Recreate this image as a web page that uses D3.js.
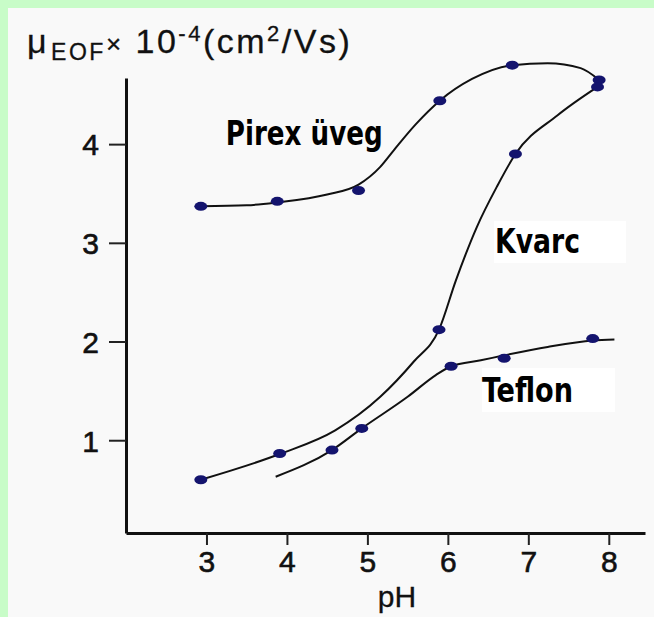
<!DOCTYPE html>
<html>
<head>
<meta charset="utf-8">
<script src="https://cdn.jsdelivr.net/npm/d3@7"></script>
<style>
  html, body { margin: 0; padding: 0; background: #c8fcc8; }
  #chart { position: absolute; left: 8px; top: 8px; }
</style>
</head>
<body>
<div id="chart"></div>
<script>
// tick labels
const xTicks = [3, 4, 5, 6, 7, 8];
const yTicks = [1, 2, 3, 4];

// measured points (pH, mobility x 10^-4)
const pirexPH = [2.93, 3.88, 4.89, 5.90, 6.80, 7.88];
const pirexMu = [3.37, 3.42, 3.53, 4.44, 4.80, 4.65];
const kvarcPH = [2.93, 3.91, 5.89, 6.84, 7.86];
const kvarcMu = [0.60, 0.865, 2.12, 3.90, 4.58];
const teflonPH = [4.56, 4.93, 6.04, 6.70, 7.80];
const teflonMu = [0.90, 1.12, 1.75, 1.83, 2.03];

// fitted curves
const pirexCurvePH = [2.93, 3.50, 3.88, 4.50, 4.89, 5.16, 5.33, 5.60, 5.90, 6.30, 6.80, 7.24, 7.65, 7.88];
const pirexCurveMu = [3.37, 3.38, 3.41, 3.49, 3.59, 3.77, 3.94, 4.20, 4.44, 4.66, 4.80, 4.82, 4.77, 4.65];
const kvarcCurvePH = [2.93, 3.91, 4.60, 5.16, 5.58, 5.89, 6.10, 6.36, 6.61, 6.84, 7.36, 7.86];
const kvarcCurveMu = [0.60, 0.86, 1.10, 1.44, 1.80, 2.12, 2.62, 3.16, 3.57, 3.90, 4.29, 4.58];
const teflonCurvePH = [3.86, 4.56, 4.93, 5.50, 5.85, 6.04, 6.41, 6.70, 7.24, 7.80, 8.07];
const teflonCurveMu = [0.63, 0.90, 1.12, 1.44, 1.66, 1.75, 1.81, 1.86, 1.945, 2.01, 2.02];

const W = 646, H = 609;
const svg = d3.select("#chart").append("svg")
    .attr("width", W).attr("height", H)
    .style("background", "#f9f9f9");

// offset of the panel inside the page
const g = svg.append("g").attr("transform", "translate(-8,-8)");

const x = d3.scaleLinear().domain([2, 8.45]).range([126, 645]);
const y = d3.scaleLinear().domain([0.06, 4.67]).range([533, 78]);

const font = "'Liberation Sans', Arial, sans-serif";
const boldFont = "'Liberation Sans Narrow', 'DejaVu Sans Condensed', 'Liberation Sans', Arial, sans-serif";

// axes
const xAxis = g.append("g")
    .attr("transform", `translate(0,${y.range()[0]})`)
    .call(d3.axisBottom(x).tickValues(xTicks).tickFormat(d3.format("d"))
        .tickSize(12).tickSizeOuter(0).tickPadding(5));
const yAxis = g.append("g")
    .attr("transform", `translate(${x.range()[0]},0)`)
    .call(d3.axisLeft(y).tickValues(yTicks).tickFormat(d3.format("d"))
        .tickSize(17).tickSizeOuter(0).tickPadding(10));

g.selectAll(".domain").attr("stroke", "#111").attr("stroke-width", 3);
g.selectAll(".tick line").attr("stroke", "#222").attr("stroke-width", 2);
g.selectAll(".tick text")
    .attr("fill", "#111")
    .attr("stroke", "#111")
    .attr("stroke-width", 0.6)
    .style("font-family", font)
    .style("font-size", "30px");
xAxis.selectAll(".tick text").attr("dy", "0.72em");
yAxis.selectAll(".tick text").attr("dy", "0.36em");

g.append("text")
    .attr("x", 397).attr("y", 607)
    .attr("text-anchor", "middle")
    .attr("stroke", "#111").attr("stroke-width", 0.3)
    .style("font-family", font).style("font-size", "30px").attr("fill", "#111")
    .text("pH");

// y title  µEOF × 10-4 (cm2/Vs)
const title = g.append("text")
    .attr("x", 27).attr("y", 53)
    .attr("stroke", "#111").attr("stroke-width", 0.3)
    .style("font-family", font).style("font-size", "34px")
    .style("letter-spacing", "2.5px").attr("fill", "#111");
title.append("tspan").text("\u03bc");
title.append("tspan").attr("dx", 2).attr("dy", 7).style("font-size", "23px").text("EOF");
title.append("tspan").attr("dy", -7).style("font-size", "26px").text("\u00d7");
title.append("tspan").text(" 10");
title.append("tspan").attr("dy", -12).style("font-size", "22px").text("-4");
title.append("tspan").attr("dy", 12).text("(cm");
title.append("tspan").attr("dy", -12).style("font-size", "22px").text("2");
title.append("tspan").attr("dy", 12).text("/Vs)");

// curves
const line = d3.line()
    .x(d => x(d[0]))
    .y(d => y(d[1]))
    .curve(d3.curveMonotoneX);

const curves = [
    d3.zip(pirexCurvePH, pirexCurveMu),
    d3.zip(kvarcCurvePH, kvarcCurveMu),
    d3.zip(teflonCurvePH, teflonCurveMu)
];
g.selectAll(".curve")
    .data(curves)
    .enter()
    .append("path")
    .attr("class", "curve")
    .attr("d", line)
    .attr("fill", "none")
    .attr("stroke", "#111")
    .attr("stroke-width", 2);

// label boxes
function label(txt, px, py, len, box) {
    if (box) {
        g.append("rect")
            .attr("x", box[0]).attr("y", box[1])
            .attr("width", box[2]).attr("height", box[3])
            .attr("fill", "#ffffff");
    }
    g.append("text")
        .attr("x", px).attr("y", py)
        .attr("textLength", len)
        .attr("lengthAdjust", "spacingAndGlyphs")
        .style("font-family", boldFont)
        .style("font-weight", "bold")
        .style("font-size", "33px")
        .attr("fill", "#000")
        .text(txt);
}
label("Pirex üveg", x(3.24), y(3.99), 157, null);
label("Kvarc", 495, 253, 85, [494, 221, 132, 42]);
label("Teflon", 482, 402, 91, [482, 368, 133, 44]);

// markers
const points = [
    ...d3.zip(pirexPH, pirexMu),
    ...d3.zip(kvarcPH, kvarcMu),
    ...d3.zip(teflonPH, teflonMu)
];
g.selectAll(".pt")
    .data(points)
    .enter()
    .append("ellipse")
    .attr("class", "pt")
    .attr("cx", d => x(d[0]))
    .attr("cy", d => y(d[1]))
    .attr("rx", 6.5)
    .attr("ry", 4.5)
    .attr("fill", "#14146e");
</script>
</body>
</html>
